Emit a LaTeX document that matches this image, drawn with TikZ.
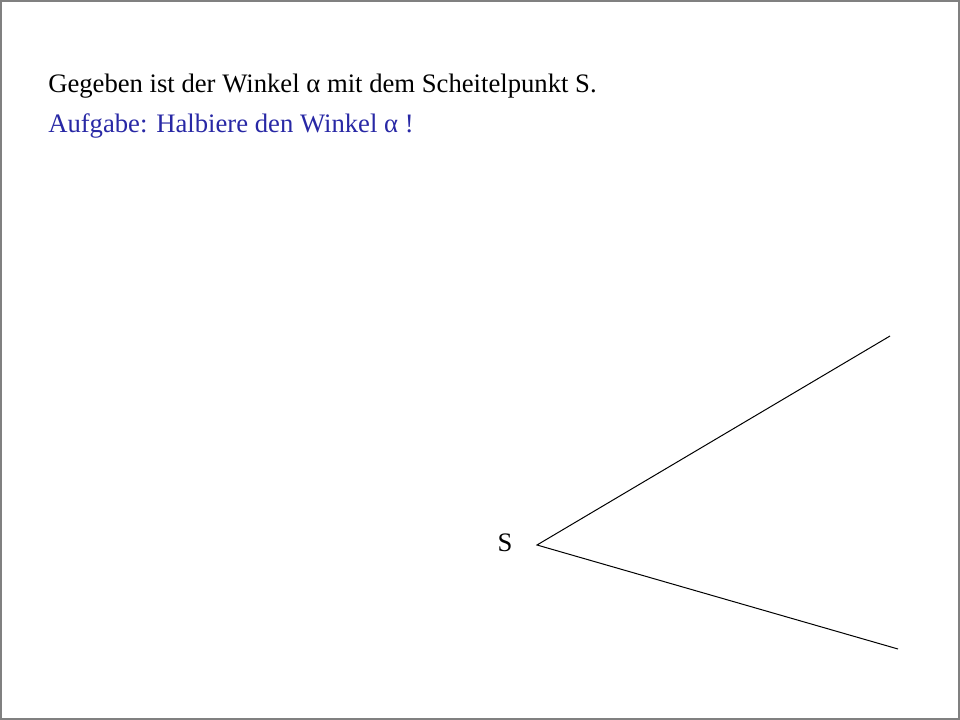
\documentclass[tikz,border=0pt]{standalone}
\usepackage{fontspec}
\setmainfont{Liberation Serif}
\usetikzlibrary{positioning}
\definecolor{aufgabeblau}{RGB}{40,40,165}
\begin{document}
\begin{tikzpicture}[x=0.75pt,y=-0.75pt,
    txt/.style={anchor=base west,inner sep=0pt,font=\fontsize{20}{24}\selectfont},
    schenkel/.style={line width=0.75pt}]
  \useasboundingbox (0,0) rectangle (960,720);
  \draw[gray,line width=1.2pt] (1,1) rectangle (959,719);

  \node[txt] (gegeben) at (48,93) {Gegeben ist der Winkel α mit dem Scheitelpunkt S.};
  \node[txt,text=aufgabeblau] (aufgabe) at (48,133) {Aufgabe: Halbiere den Winkel α !};

  \coordinate (scheitel) at (537,545);
  \coordinate (oben) at (890,336);
  \coordinate (unten) at (898,649);
  \draw[schenkel] (oben) -- (scheitel) -- (unten);

  \node[inner sep=0pt,font=\fontsize{20}{24}\selectfont] (slabel) at (505,543) {S};
\end{tikzpicture}
\end{document}
